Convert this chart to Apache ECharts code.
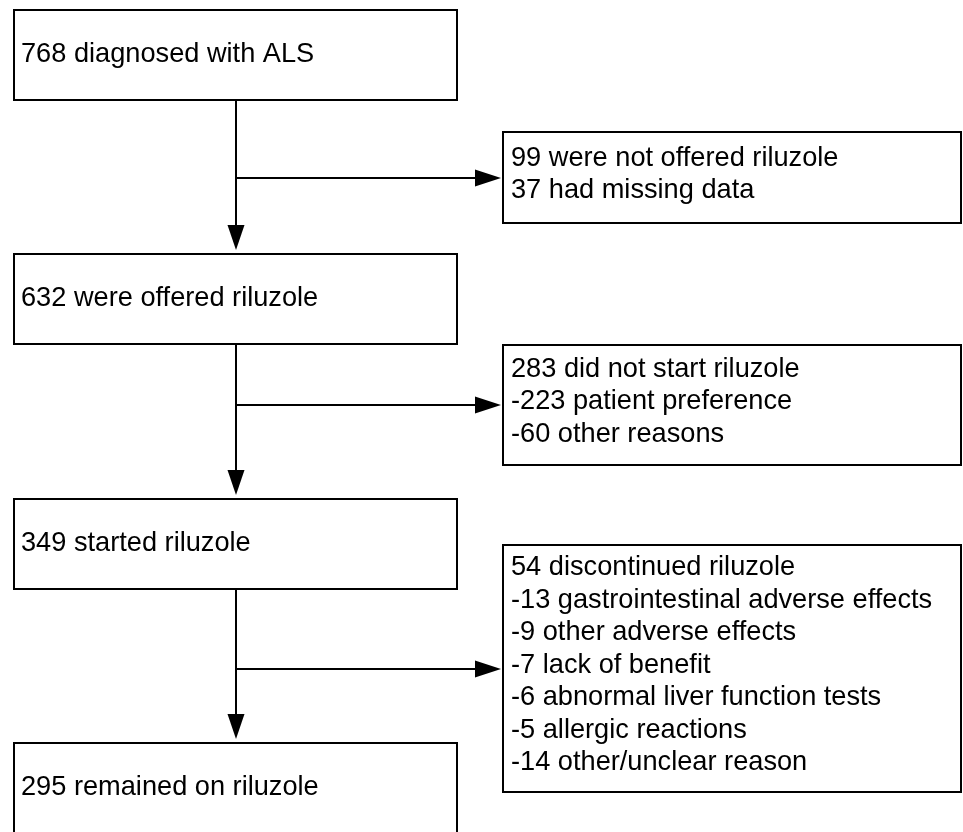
<!DOCTYPE html>
<html>
<head>
<meta charset="utf-8">
<script src="https://cdn.jsdelivr.net/npm/echarts@6/dist/echarts.min.js"></script>
<style>
html, body { margin: 0; padding: 0; background: #fff; }
#chart { width: 963px; height: 832px; }
</style>
</head>
<body>
<div id="chart"></div>
<script>
// flow steps (main column)
var mainCounts = [768, 632, 349, 295];
var mainLabels = ['diagnosed with ALS', 'were offered riluzole', 'started riluzole', 'remained on riluzole'];

// exclusions (side boxes)
var exclCounts = [99, 283, 54];
var exclLabels = ['were not offered riluzole', 'did not start riluzole', 'discontinued riluzole'];
var reasonPrefix = ['', '-', '-'];
var reasonCounts = [[37], [223, 60], [13, 9, 7, 6, 5, 14]];
var reasonLabels = [
    ['had missing data'],
    ['patient preference', 'other reasons'],
    ['gastrointestinal adverse effects', 'other adverse effects', 'lack of benefit',
     'abnormal liver function tests', 'allergic reactions', 'other/unclear reason']
];

// layout, in units of the hidden axes (1 unit = 1px)
var W = 963, H = 832;
var mainLeft = 14, mainRight = 457, mainH = 90;
var mainTops = [10, 254, 499, 743];
var sideLeft = 503, sideRight = 961;
var sideTops = [132, 345, 545], sideBottoms = [223, 465, 792];
var spineX = 236;
var FONT = 'Liberation Sans, Arial, sans-serif', FSIZE = 27.2, LINE_H = 32.5;
var LW = 2;

function rectEl(api, x0, y0, x1, y1) {
    var p0 = api.coord([x0, y0]), p1 = api.coord([x1, y1]);
    return {
        type: 'rect',
        shape: { x: p0[0], y: p0[1], width: p1[0] - p0[0], height: p1[1] - p0[1] },
        style: { fill: '#fff', stroke: '#000', lineWidth: LW }
    };
}

function textEl(api, x, y, str) {
    var p = api.coord([x, y]);
    return {
        type: 'text',
        style: { text: str, x: p[0], y: p[1], fill: '#000', fontFamily: FONT, fontSize: FSIZE, align: 'left', verticalAlign: 'middle' }
    };
}

function lineEl(api, x0, y0, x1, y1) {
    var p0 = api.coord([x0, y0]), p1 = api.coord([x1, y1]);
    return {
        type: 'line',
        shape: { x1: p0[0], y1: p0[1], x2: p1[0], y2: p1[1] },
        style: { stroke: '#000', lineWidth: LW }
    };
}

function headEl(api, pts) {
    return {
        type: 'polygon',
        shape: { points: pts.map(function (p) { return api.coord(p); }) },
        style: { fill: '#000' }
    };
}

var mainData = mainCounts.map(function (c, i) { return [i, c]; });
var sideData = exclCounts.map(function (c, i) { return [i, c]; });
var linkData = exclCounts.map(function (c, i) { return [i, c]; });

var chart = echarts.init(document.getElementById('chart'));
chart.setOption({
    animation: false,
    backgroundColor: '#fff',
    grid: { left: 0, right: 0, top: 0, bottom: 0 },
    xAxis: { type: 'value', min: 0, max: W, show: false },
    yAxis: { type: 'value', min: 0, max: H, inverse: true, show: false },
    series: [{
        // connectors: spine segments with arrowheads + branch arrows
        type: 'custom',
        clip: false,
        data: linkData,
        renderItem: function (params, api) {
            var i = api.value(0);
            var yTop = mainTops[i] + mainH, yNext = mainTops[i + 1] - 4;
            var yBranch = Math.round((sideTops[i] + sideBottoms[i]) / 2);
            var tipX = sideLeft - 2;
            return {
                type: 'group',
                children: [
                    lineEl(api, spineX, yTop, spineX, yNext - 20),
                    headEl(api, [[spineX - 8.5, yNext - 25], [spineX + 8.5, yNext - 25], [spineX, yNext]]),
                    lineEl(api, spineX, yBranch, tipX - 20, yBranch),
                    headEl(api, [[tipX - 26, yBranch - 8.5], [tipX - 26, yBranch + 8.5], [tipX, yBranch]])
                ]
            };
        }
    }, {
        // main column boxes
        type: 'custom',
        clip: false,
        data: mainData,
        renderItem: function (params, api) {
            var i = api.value(0);
            var y0 = mainTops[i], y1 = y0 + mainH;
            return {
                type: 'group',
                children: [
                    rectEl(api, mainLeft, y0, mainRight, y1),
                    textEl(api, 21, (y0 + y1) / 2, api.value(1) + ' ' + mainLabels[i])
                ]
            };
        }
    }, {
        // exclusion boxes
        type: 'custom',
        clip: false,
        data: sideData,
        renderItem: function (params, api) {
            var i = api.value(0);
            var lines = [api.value(1) + ' ' + exclLabels[i]];
            reasonCounts[i].forEach(function (c, k) {
                lines.push(reasonPrefix[i] + c + ' ' + reasonLabels[i][k]);
            });
            var mid = (sideTops[i] + sideBottoms[i]) / 2 - 3;
            var first = mid - (lines.length - 1) / 2 * LINE_H;
            var kids = [rectEl(api, sideLeft, sideTops[i], sideRight, sideBottoms[i])];
            lines.forEach(function (s, k) {
                kids.push(textEl(api, 511, first + k * LINE_H, s));
            });
            return { type: 'group', children: kids };
        }
    }]
});
</script>
</body>
</html>
